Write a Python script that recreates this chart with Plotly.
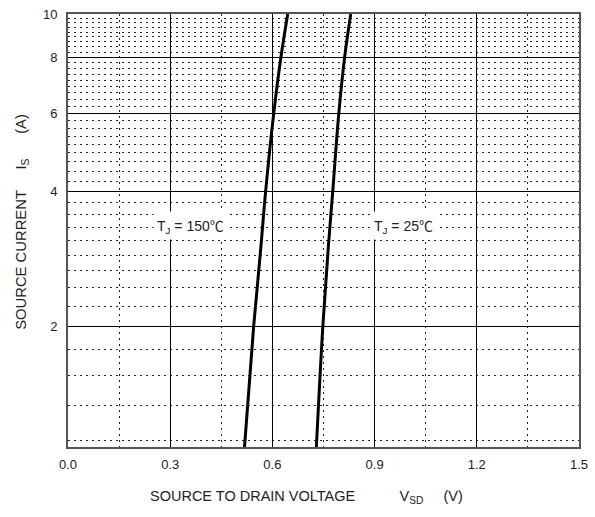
import math
import plotly.graph_objects as go

# Data
current = [1, 2, 3, 4, 6, 8, 10]
v_150 = [0.515, 0.545, 0.566, 0.580, 0.604, 0.625, 0.645]
v_25 = [0.727, 0.748, 0.764, 0.777, 0.795, 0.812, 0.830]

x_major = [0.0, 0.3, 0.6, 0.9, 1.2, 1.5]
x_labels = ["0.0", "0.3", "0.6", "0.9", "1.2", "1.5"]
x_minor = [0.15, 0.45, 0.75, 1.05, 1.35]
y_major = [2, 4, 6, 8, 10]
y_labels = ["2", "4", "6", "8", "10"]
y_minor = [1.111, 1.333, 1.556, 1.778,
           2.222, 2.444, 2.667, 2.889, 3.111, 3.333, 3.556, 3.778,
           4.222, 4.444, 4.667, 4.889, 5.111, 5.333, 5.556, 5.778,
           6.222, 6.444, 6.667, 6.889, 7.111, 7.333, 7.556, 7.778,
           8.222, 8.444, 8.667, 8.889, 9.111, 9.333, 9.556, 9.778]
y_range = [1.075, 10]

FONT = "Liberation Sans, Arial, sans-serif"
NB = "&nbsp;"
DEGC = "<span style='font-family:Noto Sans CJK SC'>℃</span>"

fig = go.Figure()
for v in (v_150, v_25):
    fig.add_trace(go.Scatter(x=v, y=current, mode="lines",
                             line=dict(color="black", width=3, shape="spline"),
                             showlegend=False, hoverinfo="skip"))

fig.update_layout(
    width=595, height=517,
    margin=dict(l=68, r=7, t=13, b=70),
    paper_bgcolor="white", plot_bgcolor="white",
    font=dict(family=FONT, size=13, color="#222"),
)
fig.update_xaxes(
    range=[0, 1.5], tickvals=x_major, ticktext=x_labels,
    showgrid=True, gridcolor="black", gridwidth=1,
    showline=True, mirror=True, linecolor="#555", linewidth=2,
    zeroline=False, ticks="", ticklabelstandoff=4,
    ticklabeloverflow="allow",
    minor=dict(tickvals=x_minor, showgrid=True, gridcolor="#222",
               griddash="2px,4px", gridwidth=1, ticks=""),
    tickfont=dict(size=13),
)
fig.update_yaxes(
    type="log", range=[math.log10(y_range[0]), math.log10(y_range[1])],
    tickvals=y_major, ticktext=y_labels,
    showgrid=True, gridcolor="black", gridwidth=1,
    showline=True, mirror=True, linecolor="#555", linewidth=2,
    zeroline=False, ticks="", ticklabelstandoff=6,
    ticklabeloverflow="allow",
    minor=dict(tickvals=y_minor, showgrid=True, gridcolor="#222",
               griddash="2px,4px", gridwidth=1, ticks=""),
    tickfont=dict(size=13),
)

fig.add_annotation(x=0.36, y=math.log10(3.36), yref="y", xref="x",
                   text="T<sub>J</sub> = 150" + DEGC, showarrow=False,
                   bgcolor="white", font=dict(size=14, color="#222"), borderpad=3)
fig.add_annotation(x=0.985, y=math.log10(3.36), yref="y", xref="x",
                   text="T<sub>J</sub> = 25" + DEGC, showarrow=False,
                   bgcolor="white", font=dict(size=14, color="#222"), borderpad=3)

fig.add_annotation(xref="paper", yref="paper", x=0, xshift=80, xanchor="left",
                   y=0, yshift=-50, yanchor="middle", showarrow=False,
                   text="SOURCE TO DRAIN VOLTAGE" + NB * 11 + "V<sub>SD</sub>" + NB * 5 + "(V)",
                   font=dict(size=14.5, color="#222"))
fig.add_annotation(xref="paper", yref="paper", x=0, xshift=-46, y=0.52,
                   xanchor="center", yanchor="middle", showarrow=False, textangle=-90,
                   text="SOURCE CURRENT" + NB * 5 + "I<sub>S</sub>" + NB * 6 + "(A)",
                   font=dict(size=14.8, color="#222"))

fig.write_html("out.html")
